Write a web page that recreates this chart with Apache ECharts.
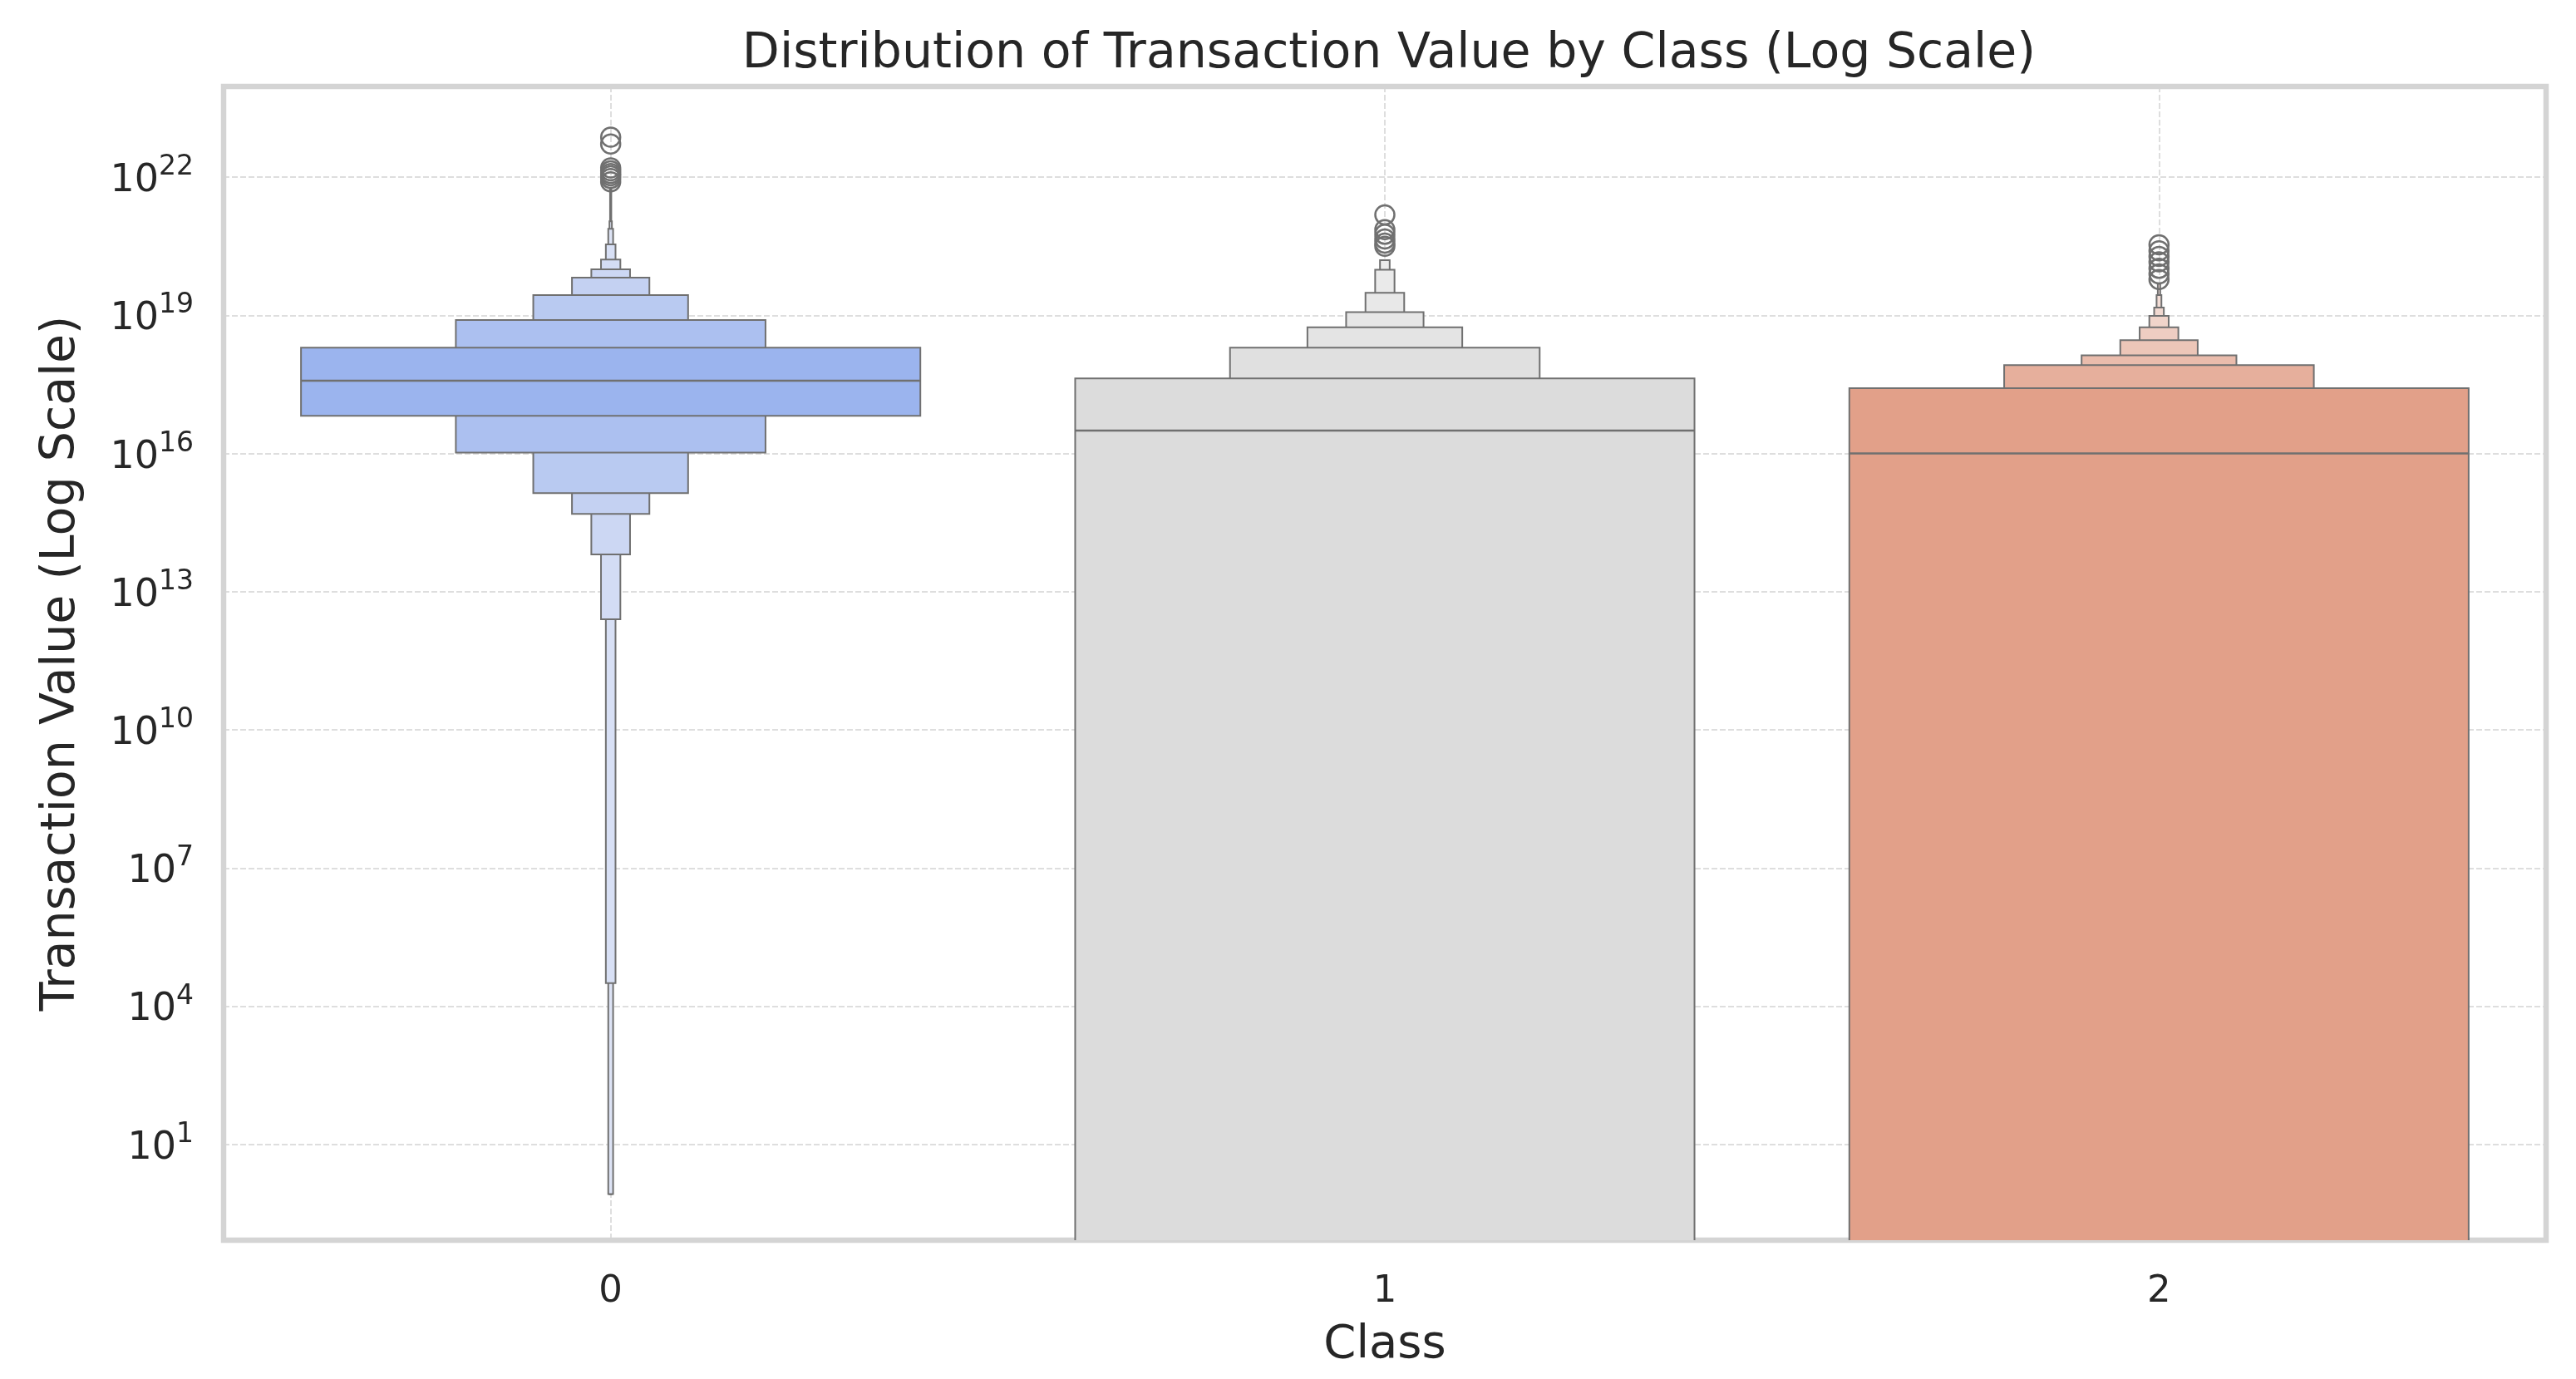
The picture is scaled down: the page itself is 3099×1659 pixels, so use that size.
<!DOCTYPE html>
<html><head><meta charset="utf-8">
<script src="https://cdn.jsdelivr.net/npm/echarts@6/dist/echarts.min.js"></script>
<style>html,body{margin:0;padding:0;background:#fff}#c{width:3099px;height:1659px}</style>
</head><body><div id="c"></div>
<script>
// ---- data (values stored as log10 of transaction value) ----
const categories = ['0', '1', '2'];
const yTickExponents = [1, 4, 7, 10, 13, 16, 19, 22];
// letter-value box edges, innermost level first
const class0Upper = [18.30, 18.90, 19.44, 19.82, 20.00, 20.21, 20.54, 20.88, 21.04, 21.75];
const class0Lower = [16.82, 16.02, 15.14, 14.69, 13.81, 12.40, 4.50, -0.08, -0.08, -0.08];
const class0Median = 17.58;
const class1Upper = [17.63, 18.30, 18.74, 19.07, 19.49, 19.99, 20.20];
const class1Lower = [null, null, null, null, null, null, null]; // value 0 -> below the log axis
const class1Median = 16.50;
const class2Upper = [17.42, 17.92, 18.13, 18.46, 18.74, 18.99, 19.17, 19.44, 19.69];
const class2Lower = [null, null, null, null, null, null, null, null, null]; // value 0 -> below the log axis
const class2Median = 16.00;
const class0Outliers = [22.87, 22.72, 22.20, 22.14, 22.08, 22.03, 21.97, 21.90];
const class1Outliers = [21.18, 20.86, 20.76, 20.66, 20.57, 20.50];
const class2Outliers = [20.53, 20.40, 20.28, 20.16, 20.02, 19.90, 19.78];

// ---- layout / style ----
const Y_MIN = -1.08, Y_MAX = 23.97;
const FONT = 'DejaVu Sans';
const TEXT = '#262626';
const EDGE = '#707070';
const baseColors = [[155, 180, 238], [220, 220, 220], [226, 160, 137]];
const lightColors = [[238, 240, 247], [241, 241, 241], [247, 237, 234]];
const BOX_WIDTH = 0.8;

const uppers = [class0Upper, class1Upper, class2Upper];
const lowers = [class0Lower, class1Lower, class2Lower];
const medians = [class0Median, class1Median, class2Median];
const outliers = [class0Outliers, class1Outliers, class2Outliers];

function levelColor(c, i) {
  const t = 1 - Math.pow(0.8, i);
  const b = baseColors[c], l = lightColors[c];
  return 'rgb(' + b.map((v, k) => Math.round(v + (l[k] - v) * t)).join(',') + ')';
}

const boxData = [];
uppers.forEach((up, c) => {
  const n = up.length;
  for (let i = n - 1; i >= 0; i--) {
    const lo = lowers[c][i] === null ? Y_MIN - 1 : lowers[c][i];
    boxData.push([c, lo, up[i], BOX_WIDTH / Math.pow(2, i), i]);
  }
});
const medianData = medians.map((m, c) => [c, m]);
const outlierData = [];
outliers.forEach((arr, c) => arr.forEach(v => outlierData.push([c, v])));

const chart = echarts.init(document.getElementById('c'), null, {renderer: 'canvas'});
chart.setOption({
  backgroundColor: '#ffffff',
  animation: false,
  title: {
    text: 'Distribution of Transaction Value by Class (Log Scale)',
    left: 1666, top: 28, textAlign: 'center',
    textStyle: {fontFamily: FONT, fontSize: 58.5, fontWeight: 'normal', color: TEXT, lineHeight: 66}
  },
  grid: {left: 269, right: 36, top: 104, bottom: 167, show: true, borderColor: '#d4d4d4', borderWidth: 6.5, backgroundColor: 'transparent'},
  xAxis: {
    type: 'value', min: -0.5, max: 2.5,
    name: 'Class', nameLocation: 'middle', nameGap: 98,
    nameTextStyle: {fontFamily: FONT, fontSize: 56, color: TEXT},
    axisLine: {show: false},
    axisTick: {show: false, customValues: categories.map((_, i) => i)},
    axisLabel: {customValues: categories.map((_, i) => i), formatter: v => categories[v], margin: 40,
      fontFamily: FONT, fontSize: 45, color: TEXT},
    splitLine: {show: true, lineStyle: {color: '#d4d4d4', width: 1.5, type: [7, 3]}}
  },
  yAxis: {
    type: 'value', min: Y_MIN, max: Y_MAX,
    name: 'Transaction Value (Log Scale)', nameLocation: 'middle', nameGap: 166,
    nameTextStyle: {fontFamily: FONT, fontSize: 57, color: TEXT},
    axisLine: {show: false},
    axisTick: {show: false, customValues: yTickExponents},
    axisLabel: {
      customValues: yTickExponents, margin: 36,
      formatter: v => '{b|10}{s|' + v + '}',
      rich: {
        b: {fontFamily: FONT, fontSize: 46, lineHeight: 56, verticalAlign: 'bottom', color: TEXT},
        s: {fontFamily: FONT, fontSize: 33, lineHeight: 33, verticalAlign: 'top', color: TEXT}
      }
    },
    splitLine: {show: true, lineStyle: {color: '#d4d4d4', width: 1.5, type: [7, 3]}}
  },
  series: [
    {
      type: 'custom', clip: true, z: 2,
      data: boxData,
      encode: {x: 0, y: [1, 2]},
      renderItem: function (params, api) {
        const c = api.value(0), lo = api.value(1), hi = api.value(2), w = api.value(3), lvl = api.value(4);
        const p1 = api.coord([c - w / 2, hi]);
        const p2 = api.coord([c + w / 2, lo]);
        return {
          type: 'rect',
          shape: {x: p1[0], y: p1[1], width: p2[0] - p1[0], height: p2[1] - p1[1]},
          style: {fill: levelColor(c, lvl), stroke: EDGE, lineWidth: 2}
        };
      }
    },
    {
      type: 'custom', clip: true, z: 3,
      data: medianData,
      encode: {x: 0, y: 1},
      renderItem: function (params, api) {
        const c = api.value(0), m = api.value(1);
        const a = api.coord([c - BOX_WIDTH / 2, m]);
        const b = api.coord([c + BOX_WIDTH / 2, m]);
        return {type: 'line', shape: {x1: a[0], y1: a[1], x2: b[0], y2: b[1]}, style: {stroke: EDGE, lineWidth: 2.5}};
      }
    },
    {
      type: 'scatter', z: 4,
      data: outlierData,
      symbol: 'circle', symbolSize: 23,
      itemStyle: {color: 'rgba(0,0,0,0)', borderColor: EDGE, borderWidth: 2.5, opacity: 1}
    }
  ]
});
</script></body></html>
